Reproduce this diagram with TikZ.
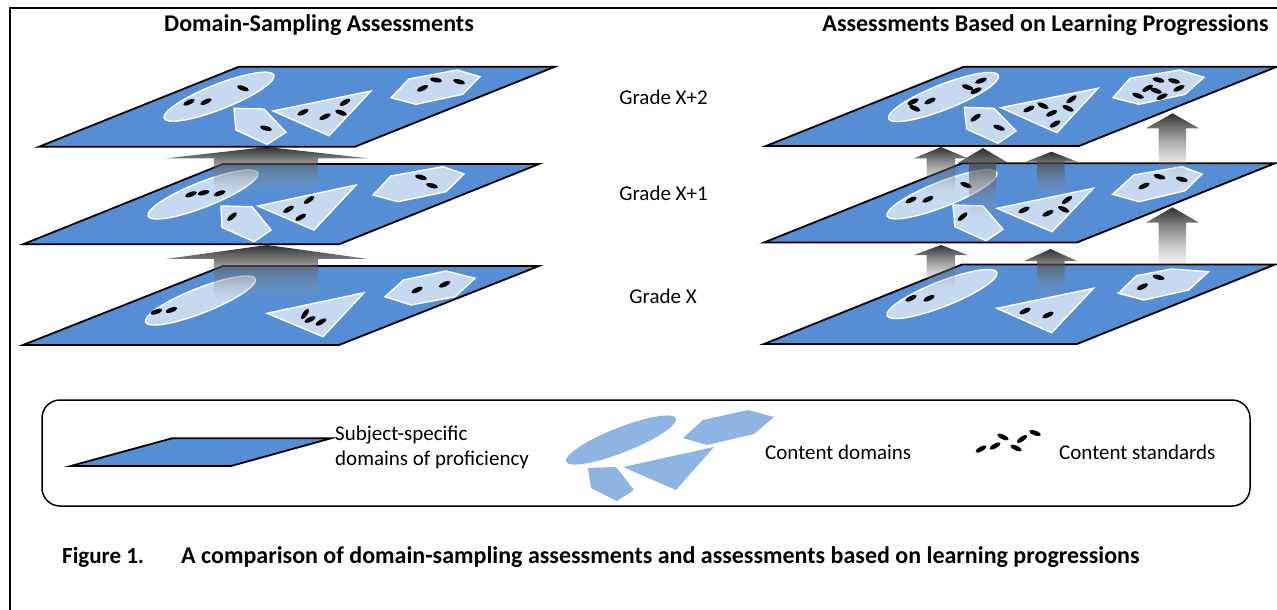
\documentclass[tikz,border=0pt]{standalone}
\usepackage{fontspec}
\setmainfont{Carlito}
\usetikzlibrary{fadings}

\definecolor{planeblue}{RGB}{85,142,213}
\definecolor{domainfill}{RGB}{198,217,241}
\definecolor{legendfill}{RGB}{142,180,227}

\tikzfading[name=upfade, top color=transparent!0, bottom color=transparent!100]

\tikzset{
  planesurf/.style={fill=planeblue, draw=black, line width=1.8pt, line join=miter},
  domainshape/.style={fill=domainfill, draw=white, line width=1.4pt, line join=miter},
  legendshape/.style={fill=legendfill},
  arrowshade/.style={top color=black!82, bottom color=black!35, path fading=upfade},
  stdmark/.style={fill=black},
  label/.style={font=\fontsize{21}{25}\selectfont, inner sep=0pt},
  heading/.style={font=\fontsize{24}{28}\selectfont\bfseries, inner sep=0pt},
  captiontext/.style={font=\fontsize{24}{28}\selectfont\bfseries, inner sep=0pt, anchor=west},
}

% a content standard: small tilted black ellipse
\newcommand\stdot[3][25]{\fill[stdmark, rotate around={#1:(#2,#3)}] (#2,#3) ellipse [x radius=6.2, y radius=2.3];}
% a content domain drawn as a tilted ellipse
\newcommand\domellipse[3][domainshape]{\path[#1, rotate around={21.5:(#2,#3)}] (#2,#3) ellipse [x radius=59, y radius=12.5];}
% block arrow: shaft left/right, head left/right, tip x/y, head base y, shaft bottom y
\newcommand\blockarrow[8]{\shade[arrowshade] (#1,#8) -- (#1,#7) -- (#3,#7) -- (#5,#6) -- (#4,#7) -- (#2,#7) -- (#2,#8) -- cycle;}

\begin{document}
\begin{tikzpicture}[x=1pt, y=-1pt]
\useasboundingbox (0,0) rectangle (1277,610);

% page frame
\draw[line width=2pt] (10,610) -- (10,8) -- (1277,8);

% headings
\node[heading] (hleft) at (319,25) {Domain-Sampling Assessments};
\node[heading] (hright) at (1045.5,25) {Assessments Based on Learning Progressions};

% grade labels
\node[label] (g2) at (663.5,97) {Grade X+2};
\node[label] (g1) at (663.5,193) {Grade X+1};
\node[label] (g0) at (663,296) {Grade X};

%%%%%%%%%%%%%%%% left stack: domain sampling %%%%%%%%%%%%%%%%
% grade X
\draw[planesurf] (23,345) -- (339,345) -- (539,266) -- (223,266) -- cycle;
\domellipse{200.5}{300.5}
\path[domainshape] (267,313.3) -- (364,292.7) -- (323,336.7) -- cycle;
\path[domainshape] (385,296.7) -- (403.6,280) -- (446,271) -- (475,278.3) -- (455,296.7) -- (411,305) -- cycle;
\stdot[20]{156.4}{311.7} \stdot[20]{171.4}{310}
\stdot[55]{305}{314} \stdot[25]{310}{319.5} \stdot[30]{321}{322}
\stdot[25]{417}{290} \stdot[25]{444.6}{284.3}
\blockarrow{214}{318}{166}{368}{267}{245}{259}{300}

% grade X+1
\draw[planesurf] (23,244.3) -- (339,244.3) -- (539,164) -- (223,164) -- cycle;
\domellipse{203}{194.5}
\path[domainshape] (221,206) -- (252,206.7) -- (271,230) -- (254,241.7) -- (222,227.3) -- cycle;
\path[domainshape] (258,206) -- (356,185) -- (314,230) -- cycle;
\path[domainshape] (373,195) -- (391,176) -- (443,166.7) -- (464,174) -- (446,191.7) -- (398,201.7) -- cycle;
\stdot[20]{191}{194.3} \stdot[15]{203.6}{192.7} \stdot[20]{219.6}{193.3}
\stdot[40]{232}{216.7}
\stdot[30]{288.6}{209.3} \stdot[35]{309}{200} \stdot[30]{300.7}{217.3}
\stdot[-15]{421}{177.3} \stdot[-15]{432}{185.7}
\blockarrow{214}{318}{166}{368}{267}{147}{158.3}{191.7}

% grade X+2
\draw[planesurf] (39,146.7) -- (355,146.7) -- (555,66.7) -- (239,66.7) -- cycle;
\domellipse{219}{96.7}
\path[domainshape] (234,108.3) -- (264,109) -- (286,132.3) -- (267,144.3) -- (236,130) -- cycle;
\path[domainshape] (273,111) -- (371,91) -- (329,135.7) -- cycle;
\path[domainshape] (391,97.7) -- (409,79) -- (457,70) -- (480,76.7) -- (462.5,94.3) -- (416,104.3) -- cycle;
\stdot[-20]{243}{88.3} \stdot[25]{189}{102.3} \stdot[25]{206}{101.7}
\stdot[-15]{266}{128.3}
\stdot[25]{303}{112.3} \stdot[25]{325}{116.7} \stdot[30]{345}{102.3} \stdot[-20]{341}{112.7}
\stdot[25]{422.5}{88.3} \stdot[-10]{436}{80} \stdot[-15]{459}{81.7}

%%%%%%%%%%%%%%%% right stack: learning progressions %%%%%%%%%%%%%%%%
% grade X
\draw[planesurf] (764,344) -- (1077,344) -- (1275,264.5) -- (962,264.5) -- cycle;
\domellipse{942}{294}
\path[domainshape] (997,308.3) -- (1093.4,288.3) -- (1051.6,332.7) -- cycle;
\path[domainshape] (1118.4,293.3) -- (1136.6,275.7) -- (1171.5,269) -- (1208.5,271.7) -- (1188.6,290) -- (1144,300) -- cycle;
\stdot[25]{911}{298.3} \stdot[25]{929}{298.3}
\stdot[25]{1025}{311} \stdot[25]{1048}{315}
\stdot[25]{1142.4}{286.7} \stdot[-15]{1158.5}{277.3}
\blockarrow{926.6}{955}{914}{967.7}{941}{245}{255}{288.3}
\blockarrow{1037}{1064.6}{1024}{1077}{1050.5}{249}{261}{298.3}

% grade X+1
\draw[planesurf] (764,242.5) -- (1077,242.5) -- (1275,163.3) -- (962,163.3) -- cycle;
\domellipse{942}{194.3}
\path[domainshape] (953,205) -- (983,206) -- (1003,229.3) -- (986,240.7) -- (955,226.7) -- cycle;
\path[domainshape] (997,208.3) -- (1093.4,188.3) -- (1052,231.7) -- cycle;
\path[domainshape] (1112.6,194.3) -- (1133.8,175) -- (1181.8,166.7) -- (1202,174) -- (1185,190.7) -- (1139,201.7) -- cycle;
\stdot[25]{911}{200} \stdot[25]{928}{199.3} \stdot[-20]{966}{185}
\stdot[40]{962.6}{216.7}
\stdot[25]{1024}{210} \stdot[25]{1048}{213.3} \stdot[35]{1067}{200} \stdot[-25]{1063.6}{209.3}
\stdot[25]{1144}{186} \stdot[-15]{1159.5}{176.7} \stdot[-15]{1181.8}{179.3}
\blockarrow{926.6}{955}{914}{967.7}{941}{147}{158.3}{192.7}
\blockarrow{968.8}{996}{957.5}{1008.8}{983}{148}{163.3}{218.3}
\blockarrow{1037}{1064.6}{1026}{1077}{1051.5}{151.7}{161.7}{198.3}
\blockarrow{1158.5}{1186}{1146}{1199}{1172.5}{207.3}{222.7}{271.7}

% grade X+2
\draw[planesurf] (766,146) -- (1079,146) -- (1277,66.7) -- (964,66.7) -- cycle;
\domellipse{943.5}{97}
\path[domainshape] (964.3,107.3) -- (994,108.3) -- (1016,131) -- (998,143.3) -- (966.7,129) -- cycle;
\path[domainshape] (1001,107.7) -- (1098,88.3) -- (1056.8,132.7) -- cycle;
\path[domainshape] (1113,97.7) -- (1130,78.3) -- (1180,70) -- (1204,77.3) -- (1185,94.3) -- (1139,104.3) -- cycle;
\stdot[25]{913}{101.7} \stdot[-25]{914.7}{108.3} \stdot[25]{930}{101}
\stdot[-20]{967.7}{87.3} \stdot[20]{981}{80.7} \stdot[25]{976}{90.7}
\stdot[35]{975.6}{117.7} \stdot[-20]{999}{127.7}
\stdot[25]{1029}{109} \stdot[-25]{1043}{105.7} \stdot[25]{1051.6}{113.3}
\stdot[-25]{1068}{108.3} \stdot[35]{1071.5}{99.3} \stdot[30]{1055}{124}
\stdot[-20]{1138}{95.7} \stdot[30]{1147.5}{88.3} \stdot[-20]{1156}{90.7}
\stdot[-15]{1158.5}{80} \stdot[-15]{1174}{81} \stdot[25]{1179}{88.3} \stdot[25]{1162}{96.7}
\blockarrow{1158.5}{1186}{1146}{1199}{1172.5}{113.3}{128.3}{176}

%%%%%%%%%%%%%%%% legend %%%%%%%%%%%%%%%%
\draw[line width=1.5pt, rounded corners=18pt] (42,400) rectangle (1250,506);
\draw[planesurf] (70.6,466) -- (231,466) -- (331,438.3) -- (172,438.3) -- cycle;
\node[label, anchor=west, align=left] (lgplane) at (335,447) {Subject-specific\\domains of proficiency};

\domellipse[legendshape]{621}{440}
\path[legendshape] (588,468) -- (616,467) -- (634,490) -- (617,501) -- (591,488) -- cycle;
\path[legendshape] (623,467) -- (714,447) -- (676,490) -- cycle;
\path[legendshape] (683,438) -- (703,420) -- (748,410) -- (774,417) -- (754,434) -- (707,445) -- cycle;
\node[label, anchor=west] (lgdomain) at (765,452) {Content domains};

\stdot[30]{981}{449} \stdot[30]{995}{446} \stdot[-25]{1003}{437}
\stdot[-25]{1016}{448} \stdot[35]{1022}{439} \stdot[-20]{1035}{433}
\node[label, anchor=west] (lgstd) at (1059,452) {Content standards};

% caption
\node[captiontext, font=\fontsize{23}{28}\selectfont\bfseries] (capnum) at (62,557) {Figure 1.};
\node[captiontext] (captext) at (181,557) {A comparison of domain-sampling assessments and assessments based on learning progressions};
\end{tikzpicture}
\end{document}
